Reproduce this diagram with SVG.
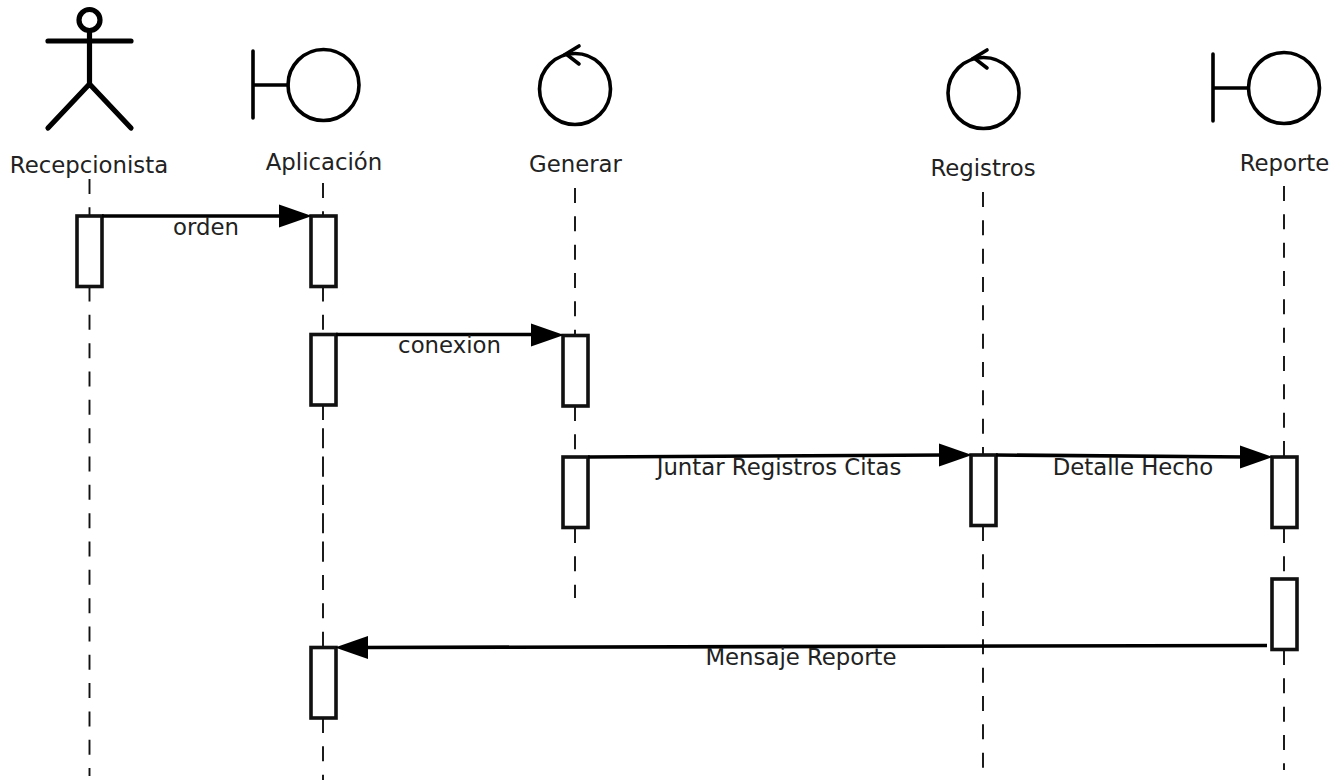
<svg xmlns="http://www.w3.org/2000/svg" width="1342" height="780" viewBox="0 0 1342 780">
<style>
text{font-family:"DejaVu Sans",sans-serif;font-size:22.8px;fill:#222;text-anchor:middle}
.ll{stroke:#111;stroke-width:1.9;stroke-dasharray:15 13.33;fill:none}
.box{fill:#fff;stroke:#111;stroke-width:3.6}
.ic{fill:none;stroke:#000;stroke-width:3.6;stroke-linecap:round}
.act{fill:none;stroke:#000;stroke-width:5.200;stroke-linecap:round;stroke-linejoin:round}
.msg{fill:none;stroke:#000;stroke-width:3.600}
</style>
<rect width="1342" height="780" fill="#fff"/>
<g id="lifelines">
<path class="ll" d="M89.500 179V216M89.500 286.500V776"/>
<path class="ll" d="M323 183V216M323 286.500V556M323 405V647M323 718V780"/>
<path class="ll" d="M575 188V335M575 406V457M575 528V598"/>
<path class="ll" d="M983 192V455M983 526V768"/>
<path class="ll" d="M1284 186V457M1284 528V579M1284 650V770"/>
</g>
<g id="recepcionista">
<circle class="act" cx="89.500" cy="20" r="10.500"/>
<path class="act" d="M89.500 31V84M48 41H131M48 128L89.500 84L131 128"/>
<text x="89" y="172.500">Recepcionista</text>
</g>
<g id="aplicacion">
<path class="ic" d="M253 51V118M253 85H288"/>
<circle class="ic" cx="323.500" cy="85" r="35.500"/>
<text x="324" y="169.500">Aplicación</text>
</g>
<g id="generar">
<circle class="ic" cx="575" cy="89" r="35.500"/>
<path class="ic" d="M579 46L566 54L579 64"/>
<text x="575.500" y="171.500">Generar</text>
</g>
<g id="registros">
<circle class="ic" cx="983.500" cy="93" r="35.500"/>
<path class="ic" d="M987 50L974 58L987 68"/>
<text x="983" y="175.500">Registros</text>
</g>
<g id="reporte">
<path class="ic" d="M1213 54V121M1213 88H1248"/>
<circle class="ic" cx="1284" cy="88" r="35.500"/>
<text x="1284.500" y="170.500">Reporte</text>
</g>
<g id="activations">
<rect class="box" x="77" y="216" width="25" height="70.500"/>
<rect class="box" x="311" y="216" width="25" height="70.500"/>
<rect class="box" x="311" y="334.500" width="25" height="70.500"/>
<rect class="box" x="563" y="335.500" width="25" height="70.500"/>
<rect class="box" x="563" y="457" width="25" height="70.500"/>
<rect class="box" x="971" y="455" width="25" height="70.500"/>
<rect class="box" x="1272" y="457" width="25" height="70.500"/>
<rect class="box" x="1272" y="579" width="25" height="70.500"/>
<rect class="box" x="311" y="647.500" width="25" height="70.500"/>
</g>
<g id="connectors">
<path class="msg" d="M102 216H285"/><path d="M279 204.500L312 216L279 227.500Z"/>
<path class="msg" d="M336 334.500H537"/><path d="M531 323.500L564 335L531 346.500Z"/>
<path class="msg" d="M588 457L946 455"/><path d="M939 443.500L972 455L939 466.500Z"/>
<path class="msg" d="M996 455L1247 457"/><path d="M1240 445.500L1273 457L1240 468.500Z"/>
<path class="msg" d="M1267 645.500L362 647.500"/><path d="M368 636L335 647.500L368 659Z"/>
</g>
<g id="labels">
<text x="206" y="234.500">orden</text>
<text x="449.500" y="352.500">conexion</text>
<text x="779" y="474.500">Juntar Registros Citas</text>
<text x="1133" y="474.500">Detalle Hecho</text>
<text x="801" y="665">Mensaje Reporte</text>
</g>
</svg>
